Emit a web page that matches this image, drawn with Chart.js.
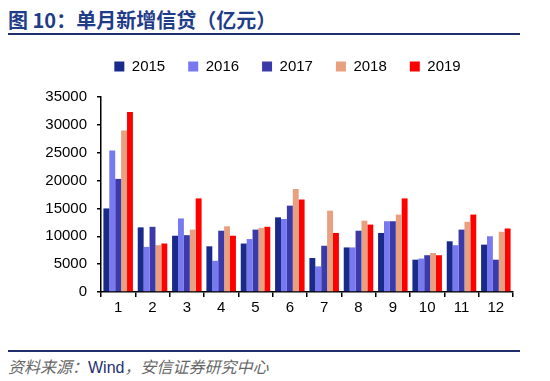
<!DOCTYPE html>
<html>
<head>
<meta charset="utf-8">
<script src="https://cdn.jsdelivr.net/npm/chart.js@4"></script>
<style>
  body { margin: 0; background: #fff; width: 550px; height: 381px; position: relative; overflow: hidden; }
  .title { position: absolute; left: 8px; top: 5px; font: bold 20px "Noto Sans CJK SC", sans-serif; color: #1f3c88; white-space: nowrap; }
  .line { position: absolute; left: 8px; width: 512px; height: 2px; background: #1f2f6e; }
  .source { position: absolute; left: 8px; top: 354px; font: italic 16px "Noto Sans CJK SC", sans-serif; color: #666; white-space: nowrap; }
  .source b { font: normal 16px "Liberation Sans", Arial, sans-serif; color: #1f2f6e; }
  canvas { position: absolute; left: 0; top: 0; }
</style>
</head>
<body>
<div class="title">图 10：单月新增信贷（亿元）</div>
<div class="line" style="top:33px"></div>
<div class="line" style="top:350px"></div>
<div class="source">资料来源：<b>Wind</b>，安信证券研究中心</div>
<canvas id="Chart" width="550" height="381"></canvas>
<script>
let months = ['1', '2', '3', '4', '5', '6', '7', '8', '9', '10', '11', '12'];
let yearNames = ['2015', '2016', '2017', '2018', '2019'];
let y2015 = [15000, 11600, 10100, 8200, 8700, 13400, 6100, 8000, 10600, 5800, 9100, 8500];
let y2016 = [25400, 8100, 13200, 5600, 9500, 13100, 4600, 8000, 12700, 6000, 8400, 10000];
let y2017 = [20300, 11700, 10200, 11000, 11200, 15500, 8300, 11000, 12700, 6600, 11200, 5800];
let y2018 = [29000, 8400, 11200, 11800, 11500, 18500, 14600, 12800, 13900, 7000, 12600, 10800];
let y2019 = [32300, 8700, 16800, 10100, 11700, 16600, 10600, 12100, 16800, 6600, 13900, 11400];
let yTicks = [0, 5000, 10000, 15000, 20000, 25000, 30000, 35000];
let colors = ['#1a2a8a', '#7878f0', '#3a3aa8', '#e8a080', '#ff0000'];

let series = [y2015, y2016, y2017, y2018, y2019];
let ctx = document.getElementById('Chart').getContext('2d');

// move the legend to where it sits in the original picture
let legendShift = {
    id: 'legendShift',
    afterLayout(chart) {
        let lg = chart.legend;
        lg.left += 31; lg.right += 31;
        lg.top -= 13; lg.bottom -= 13;
    }
};

new Chart(ctx, {
    type: 'bar',
    data: {
        labels: months,
        datasets: series.map((d, i) => ({
            label: yearNames[i],
            data: d,
            backgroundColor: colors[i],
            borderWidth: 0,
            barPercentage: 1.0,
            categoryPercentage: 0.86
        }))
    },
    options: {
        responsive: false,
        animation: false,
        layout: { padding: { left: 0, right: 37, top: 49, bottom: 62 } },
        plugins: {
            tooltip: { enabled: false },
            legend: {
                position: 'top',
                labels: {
                    boxWidth: 10,
                    boxHeight: 10,
                    padding: 23,
                    color: '#000',
                    font: { family: 'Liberation Sans', size: 15 }
                }
            }
        },
        scales: {
            x: {
                grid: { display: true, drawOnChartArea: false, offset: true, tickLength: 5, color: '#000', lineWidth: 1.5 },
                border: { color: '#000', width: 1.5 },
                ticks: { color: '#000', font: { family: 'Liberation Sans', size: 15 }, padding: 2 }
            },
            y: {
                min: 0,
                max: 35000,
                afterFit: s => { s.width = 101; },
                afterBuildTicks: s => { s.ticks = yTicks.map(v => ({ value: v })); },
                grid: { display: true, drawOnChartArea: false, tickLength: 4, color: '#000', lineWidth: 1.5 },
                border: { color: '#000', width: 1.5 },
                ticks: {
                    color: '#000',
                    font: { family: 'Liberation Sans', size: 15 },
                    padding: 10,
                    callback: v => String(v)
                }
            }
        }
    },
    plugins: [legendShift]
});
</script>
</body>
</html>
